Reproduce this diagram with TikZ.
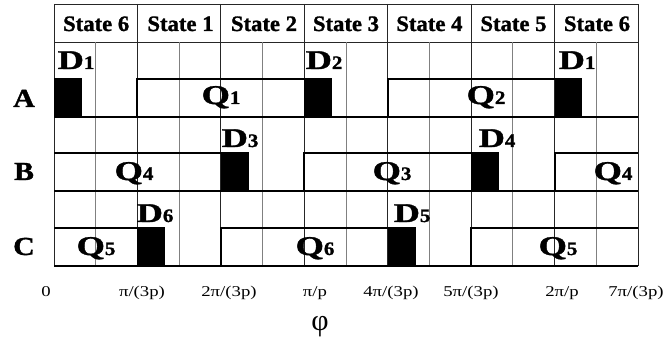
\documentclass[tikz,border=0pt]{standalone}
\usepackage{fontspec}
\setmainfont{Liberation Serif}
\newfontfamily\hvy{Liberation Serif Bold}[FakeBold=1.2]
\usepackage{graphicx}
\newcommand\DQ[2]{\scalebox{1.35}[1]{\fontsize{27}{27}\selectfont\hvy #1}\scalebox{1.1}[1]{\fontsize{19}{19}\selectfont\hvy #2}}
\newcommand\hdr[1]{\scalebox{1.03}[1]{\fontsize{22}{22}\selectfont\hvy #1}}
\newcommand\rowlab[1]{\scalebox{1.15}[1]{\fontsize{26}{26}\selectfont\hvy #1}}
\newcommand\axlab[1]{\scalebox{1.25}[1]{\fontsize{15}{15}\selectfont #1}}
\begin{document}
\begin{tikzpicture}[x=1pt,y=-1pt,
  gridhalf/.style={line width=0.8pt, draw=black!50},
  gridmain/.style={line width=0.9pt, draw=black!85},
  wave/.style={line width=2pt, line join=miter},
  dbox/.style={fill=black},
  lbl/.style={inner sep=0pt, anchor=base}]
\useasboundingbox (0,0) rectangle (667,344);
% grid
\draw[gridmain] (54,4) -- (638,4);
\draw[gridmain] (54,42) -- (638,42);
\foreach \k in {0,2,...,14} {\draw[gridmain] (54+41.714*\k,4) -- (54+41.714*\k,266);}
\foreach \k in {1,3,...,13} {\draw[gridhalf] (54+41.714*\k,42) -- (54+41.714*\k,266);}
% row A
\draw[wave] (54,117) -- (638,117);
\draw[wave] (137.43,117) -- (137.43,79) -- (304.29,79);
\draw[wave] (387.71,117) -- (387.71,79) -- (554.57,79);
\fill[dbox] (54,78) rectangle (81.8,118);
\fill[dbox] (304.29,78) rectangle (332.1,118);
\fill[dbox] (554.57,78) rectangle (582.4,118);
% row B
\draw[wave] (54,191) -- (638,191);
\draw[wave] (54,153) -- (220.86,153);
\draw[wave] (304.29,191) -- (304.29,153) -- (471.14,153);
\draw[wave] (554.57,191) -- (554.57,153) -- (638,153);
\fill[dbox] (220.86,152) rectangle (248.7,192);
\fill[dbox] (471.14,152) rectangle (499.0,192);
% row C
\draw[wave] (54,266) -- (638,266);
\draw[wave] (54,228) -- (137.43,228);
\draw[wave] (220.86,266) -- (220.86,228) -- (387.71,228);
\draw[wave] (471.14,266) -- (471.14,228) -- (638,228);
\fill[dbox] (137.43,227) rectangle (165.3,267);
\fill[dbox] (387.71,227) rectangle (415.5,267);
% headers
\node[lbl] (h1) at (96.2,31) {\hdr{State 6}};
\node[lbl] (h2) at (180.5,31) {\hdr{State 1}};
\node[lbl] (h3) at (264,31) {\hdr{State 2}};
\node[lbl] (h4) at (346,31) {\hdr{State 3}};
\node[lbl] (h5) at (429.4,31) {\hdr{State 4}};
\node[lbl] (h6) at (513.5,31) {\hdr{State 5}};
\node[lbl] (h7) at (597,31) {\hdr{State 6}};
% row labels
\node[lbl] (ra) at (24,107) {\rowlab{A}};
\node[lbl] (rb) at (24,180) {\rowlab{B}};
\node[lbl] (rc) at (24,255) {\rowlab{C}};
% D labels
\node[lbl] (d1a) at (76,69) {\DQ{D}{1}};
\node[lbl] (d2) at (324,69) {\DQ{D}{2}};
\node[lbl] (d1b) at (577,69) {\DQ{D}{1}};
\node[lbl] (d3) at (240,147) {\DQ{D}{3}};
\node[lbl] (d4) at (497,147) {\DQ{D}{4}};
\node[lbl] (d6) at (155,222) {\DQ{D}{6}};
\node[lbl] (d5) at (412,222) {\DQ{D}{5}};
% Q labels
\node[lbl] (q1) at (221,104) {\DQ{Q}{1}};
\node[lbl] (q2) at (486,104) {\DQ{Q}{2}};
\node[lbl] (q4a) at (134,180) {\DQ{Q}{4}};
\node[lbl] (q3) at (392,180) {\DQ{Q}{3}};
\node[lbl] (q4b) at (613,180) {\DQ{Q}{4}};
\node[lbl] (q5a) at (96,255) {\DQ{Q}{5}};
\node[lbl] (q6) at (315,255) {\DQ{Q}{6}};
\node[lbl] (q5b) at (558,255) {\DQ{Q}{5}};
% axis labels
\node[lbl] (x0) at (46,297) {\axlab{0}};
\node[lbl] (x1) at (142,297) {\axlab{π/(3p)}};
\node[lbl] (x2) at (229,297) {\axlab{2π/(3p)}};
\node[lbl] (x3) at (315,297) {\axlab{π/p}};
\node[lbl] (x4) at (391,297) {\axlab{4π/(3p)}};
\node[lbl] (x5) at (471,297) {\axlab{5π/(3p)}};
\node[lbl] (x6) at (562,297) {\axlab{2π/p}};
\node[lbl] (x7) at (636,297) {\axlab{7π/(3p)}};
\node[lbl] (phi) at (320,331) {\fontsize{30}{30}\selectfont φ};
\end{tikzpicture}
\end{document}
